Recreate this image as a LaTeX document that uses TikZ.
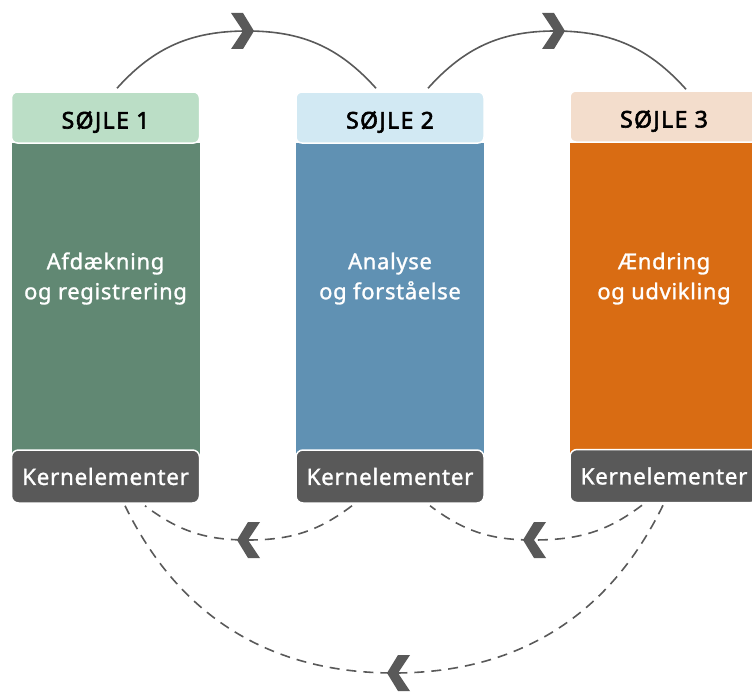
\documentclass[tikz,border=0pt]{standalone}
\usepackage{fontspec}
\setmainfont{Noto Sans}
\newfontfamily\medfont{Noto Sans}[FakeBold=1.2, LetterSpace=3]
\newfontfamily\hdfont{Noto Sans}[FakeBold=2.6, LetterSpace=6]
\usetikzlibrary{calc}
\definecolor{hA}{HTML}{BBDEC6}
\definecolor{bA}{HTML}{618873}
\definecolor{hB}{HTML}{D2E9F3}
\definecolor{bB}{HTML}{6091B3}
\definecolor{hC}{HTML}{F3DDCC}
\definecolor{bC}{HTML}{D96C13}
\definecolor{kern}{HTML}{595959}
\begin{document}
\begin{tikzpicture}[x=1pt,y=1pt,
 head/.style={rounded corners=6pt, draw=white, line width=1.5pt, minimum width=188pt, minimum height=51pt, text height=22pt, text depth=0pt, font=\fontsize{23}{26}\selectfont\hdfont, text=black},
 body/.style={minimum width=188pt, minimum height=314pt, draw=none, inner sep=0pt},
 btext/.style={text=white, align=center, font=\fontsize{22}{30}\selectfont\medfont},
 kbox/.style={rounded corners=7pt, fill=kern, draw=white, line width=1.5pt, minimum width=188pt, minimum height=53pt, text=white, font=\fontsize{22.5}{24}\selectfont\medfont},
 arcline/.style={draw=kern, line width=1.6pt},
 dashline/.style={draw=kern, line width=1.6pt, dash pattern=on 10pt off 7pt},
 chevL/.pic={\fill[kern] (0,0) -- (11,18) -- (23,18) -- (11,0) -- (23,-18) -- (11,-18) -- cycle;},
]
\useasboundingbox (0,0) rectangle (752,-693);
% columns
\node[body, fill=bA] (b1) at (105.5,-300) {};
\node[body, fill=bB] (b2) at (390,-300) {};
\node[body, fill=bC] (b3) at (664,-300) {};
\node[head, fill=hA] (h1) at (105.5,-117.5) {SØJLE 1};
\node[head, fill=hB] (h2) at (390,-117.5) {SØJLE 2};
\node[head, fill=hC] (h3) at (664,-116.5) {SØJLE 3};
\node[btext] (t1) at (105.5,-278.5) {Afdækning\\og registrering};
\node[btext] (t2) at (390,-278.5) {Analyse\\og forståelse};
\node[btext] (t3) at (664,-278.5) {Ændring\\og udvikling};
\node[kbox] (k1) at (105.5,-476.5) {Kernelementer};
\node[kbox] (k2) at (390,-476.5) {Kernelementer};
\node[kbox] (k3) at (664,-476) {Kernelementer};
% mid coordinates
\coordinate (a1) at (247,-31);
\coordinate (a2) at (555,-31);
\coordinate (c1) at (248,-540);
\coordinate (c2) at (533,-540);
\coordinate (c3) at (394,-673);
% top arcs
\draw[arcline] ($(h1.north)+(11.5,3)$) to[out=48,in=180] (a1) to[out=0,in=132] ($(h2.north)+(-14,3)$);
\draw[arcline] ($(h2.north)+(38,3)$) to[out=48,in=180] (a2) to[out=0,in=132] ($(h3.north)+(22,1)$);
\pic[xscale=-1] at (254,-31) {chevL};
\pic[xscale=-1] at (565,-31) {chevL};
% bottom dashed arcs
\draw[dashline] ($(k2.south)+(-38,-2)$) to[out=217,in=0] (c1) to[out=180,in=-37] ($(k1.south)+(39.5,-2)$);
\draw[dashline] ($(k3.south)+(-22,-2)$) to[out=217,in=0] (c2) to[out=180,in=-37] ($(k2.south)+(40,-2)$);
\draw[dashline] ($(k3.south)+(-1,-2)$) to[out=-116,in=0] (c3) to[out=180,in=-64] ($(k1.south)+(19.5,-2)$);
\pic at (237,-540) {chevL};
\pic at (523,-540) {chevL};
\pic at (387,-673) {chevL};
\end{tikzpicture}
\end{document}
